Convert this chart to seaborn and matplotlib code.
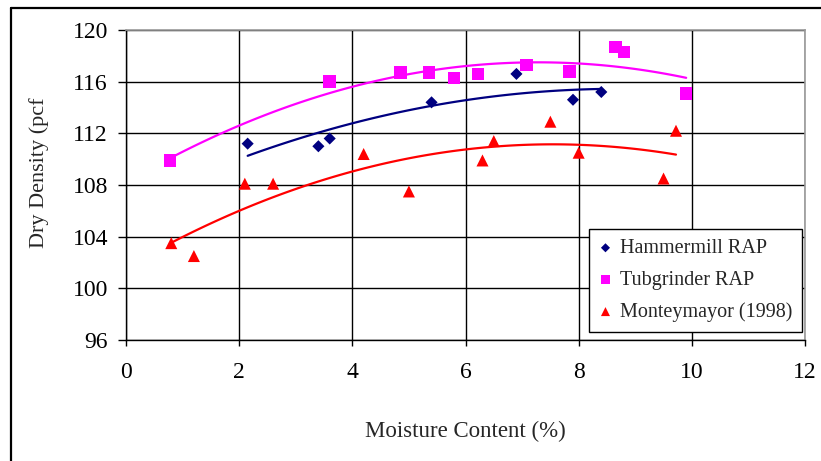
import matplotlib
matplotlib.use("Agg")
import matplotlib.pyplot as plt
from matplotlib.lines import Line2D
from matplotlib.collections import PathCollection
import seaborn as sns
import pandas as pd

# Compaction test results: moisture content (%) vs dry density (pcf)
hammermill_moisture = [2.15, 3.4, 3.6, 5.4, 6.9, 7.9, 8.4]
hammermill_density = [111.2, 111.0, 111.6, 114.4, 116.6, 114.6, 115.2]

tubgrinder_moisture = [0.78, 3.6, 4.85, 5.35, 5.8, 6.22, 7.08, 7.84, 8.65, 8.8, 9.9]
tubgrinder_density = [109.9, 116.0, 116.7, 116.7, 116.3, 116.6, 117.3, 116.8, 118.7, 118.3, 115.1]

monteymayor_moisture = [0.8, 1.2, 2.1, 2.6, 4.2, 5.0, 6.3, 6.5, 7.5, 8.0, 9.5, 9.72]
monteymayor_density = [103.5, 102.5, 108.1, 108.1, 110.4, 107.5, 109.9, 111.4, 112.9, 110.5, 108.5, 112.2]

series_names = ["Hammermill RAP", "Tubgrinder RAP", "Monteymayor (1998)"]

x_ticks = [0, 2, 4, 6, 8, 10, 12]
y_ticks = [96, 100, 104, 108, 112, 116, 120]

frames = [
    pd.DataFrame({"moisture": hammermill_moisture, "density": hammermill_density}),
    pd.DataFrame({"moisture": tubgrinder_moisture, "density": tubgrinder_density}),
    pd.DataFrame({"moisture": monteymayor_moisture, "density": monteymayor_density}),
]
colors = ["#000080", "#ff00ff", "#ff0000"]
markers = ["D", "s", "^"]
sizes = [38, 80, 75]

sns.set_style("white")
plt.rcParams["font.family"] = ["Liberation Serif", "DejaVu Serif"]

fig = plt.figure(figsize=(8.21, 4.61), dpi=100)
ax = fig.add_axes([126 / 821, 1 - 340 / 461, (805 - 126) / 821, (340 - 30) / 461])

for df, name, c, m, s in zip(frames, series_names, colors, markers, sizes):
    sns.regplot(
        data=df, x="moisture", y="density", order=2, ci=None, ax=ax,
        marker=m, color=c, label=name,
        scatter_kws={"s": s, "alpha": 1, "edgecolors": "none", "zorder": 4},
        line_kws={"lw": 1.6, "zorder": 3},
    )

ax.set_xlim(0, 12)
ax.set_ylim(96, 120)
ax.set_xticks(x_ticks)
ax.set_yticks(y_ticks)
ax.grid(True, color="black", lw=1.0)
ax.set_axisbelow(True)

for side in ["left", "bottom"]:
    ax.spines[side].set_color("black")
    ax.spines[side].set_linewidth(1.0)
for side in ["top", "right"]:
    ax.spines[side].set_color("#9a9a9a")
    ax.spines[side].set_linewidth(1.2)

ax.tick_params(axis="y", direction="out", length=6, width=1, pad=7, labelsize=17, colors="black")
ax.tick_params(axis="x", direction="out", length=4, width=1, pad=12, labelsize=17, colors="black")
ax.tick_params(left=True, bottom=True)

ax.set_xlabel("Moisture Content (%)", fontsize=16.5)
ax.set_ylabel("Dry Density (pcf", fontsize=16)
ax.xaxis.set_label_coords(0.5, -0.26)
ax.yaxis.set_label_coords(-0.113, 0.54)

# Legend shows the point markers only
point_sets = [col for col in ax.collections if isinstance(col, PathCollection)]
leg = ax.legend(
    point_sets, series_names, loc="lower right", bbox_to_anchor=(0.9956, 0.026),
    borderaxespad=0, fancybox=False, framealpha=1, edgecolor="black",
    fontsize=14.5, markerscale=0.75, handlelength=0.6, handletextpad=0.4,
    labelspacing=0.62, borderpad=0.5,
)
leg.get_frame().set_linewidth(1.0)

# Outer frame lines along the left and top edges of the figure
fig.add_artist(Line2D([11 / 821, 11 / 821], [0, 1 - 8 / 461], color="black", lw=1.6,
                      transform=fig.transFigure))
fig.add_artist(Line2D([11 / 821, 1], [1 - 8 / 461, 1 - 8 / 461], color="black", lw=1.6,
                      transform=fig.transFigure))

fig.savefig("out.png", dpi=100)
